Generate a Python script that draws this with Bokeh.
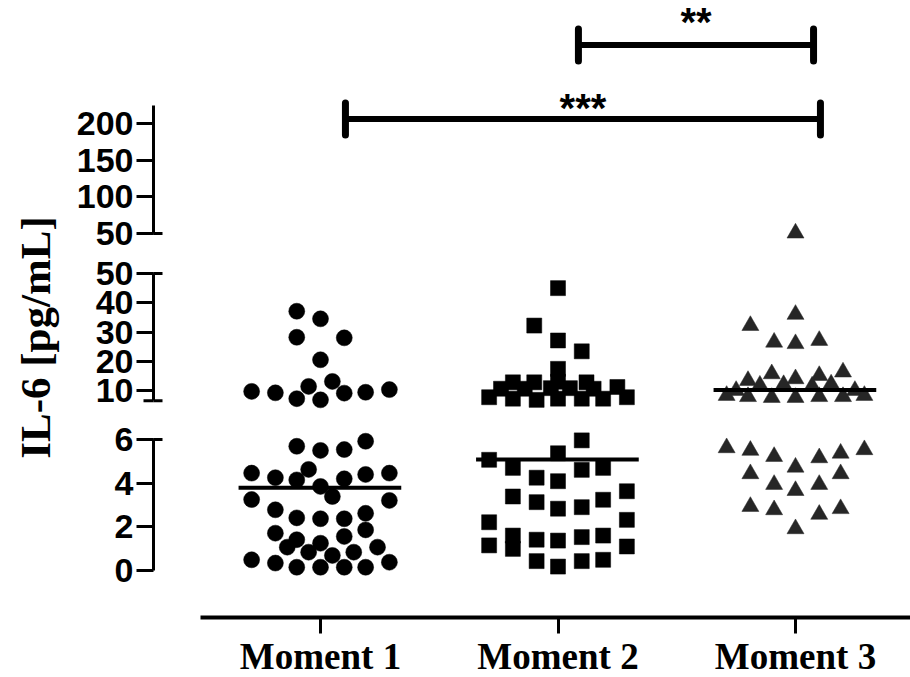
import math
from bokeh.plotting import figure
from bokeh.models import Range1d, LinearAxis, FixedTicker, Label
from bokeh.core.properties import value
from bokeh.embed import file_html
from bokeh.resources import INLINE

# ---------------- data ----------------
categories = ["Moment 1", "Moment 2", "Moment 3"]

m1_offset = [-0.10, 0.00, -0.10, 0.10, 0.00, -0.29, -0.19, -0.10, -0.05, 0.00, 0.05, 0.10, 0.19, 0.29,
             -0.10, 0.00, 0.10, 0.19, -0.29, -0.19, -0.10, -0.05, 0.10, 0.19, 0.29, 0.00, 0.05, -0.29, 0.29,
             -0.19, -0.10, 0.00, 0.10, 0.19, -0.19, -0.10, -0.14, 0.00, -0.05, 0.10, 0.19, 0.05, 0.14, 0.24,
             -0.29, -0.19, -0.10, 0.00, 0.10, 0.19, 0.29]
m1_value = [37.1, 34.5, 28.2, 28.0, 20.5, 9.7, 9.2, 7.2, 11.4, 6.8, 13.1, 9.1, 9.4, 10.3,
            5.69, 5.50, 5.54, 5.92, 4.46, 4.25, 4.15, 4.63, 4.20, 4.40, 4.46, 3.85, 3.39, 3.25, 3.21,
            2.78, 2.41, 2.37, 2.37, 2.62, 1.71, 1.41, 1.07, 1.25, 0.84, 1.56, 1.86, 0.69, 0.84, 1.07,
            0.49, 0.34, 0.15, 0.15, 0.15, 0.15, 0.38]

m2_offset = [0.00, -0.10, 0.00, 0.10, 0.00,
             -0.29, -0.19, -0.09, 0.00, 0.10, 0.19, 0.29,
             -0.24, -0.14, -0.03, 0.05, 0.15, 0.25,
             -0.19, -0.10, 0.00, 0.12,
             0.10, -0.29, 0.00, -0.19, -0.09, 0.00, 0.10, 0.19,
             -0.19, -0.09, 0.00, 0.10, 0.19, 0.29, -0.29, 0.29,
             -0.19, -0.19, -0.09, 0.00, 0.10, 0.19, -0.29, 0.29,
             -0.09, 0.00, 0.10, 0.19]
m2_value = [45.0, 32.2, 27.1, 23.4, 17.4,
            7.7, 7.2, 6.8, 7.2, 7.2, 7.2, 7.7,
            10.6, 10.6, 10.8, 10.8, 10.6, 11.2,
            12.8, 12.8, 13.0, 12.8,
            5.96, 5.07, 5.37, 4.70, 4.25, 4.09, 4.61, 4.70,
            3.39, 3.13, 2.83, 2.90, 3.24, 3.63, 2.21, 2.32,
            1.60, 0.99, 1.41, 1.37, 1.53, 1.60, 1.15, 1.10,
            0.43, 0.18, 0.43, 0.49]

m3_offset = [0.00,
             0.00, -0.19, -0.09, 0.00, 0.10,
             -0.20, -0.10, 0.00, 0.10, 0.20, -0.15, -0.05, 0.07, 0.15, -0.25, 0.25,
             -0.29, -0.20, -0.10, 0.00, 0.10, 0.20, 0.29,
             -0.29, -0.19, -0.09, 0.00, 0.10, 0.19, 0.29,
             -0.19, -0.09, 0.00, 0.10, 0.19,
             -0.19, -0.09, 0.10, 0.19, 0.00]
m3_value = [50.5,
            36.0, 32.2, 26.5, 26.0, 27.1,
            13.4, 15.7, 14.0, 15.1, 16.3, 11.8, 12.0, 11.5, 12.2, 10.0, 10.0,
            8.3, 7.9, 7.6, 7.6, 7.9, 7.9, 8.3,
            5.62, 5.50, 5.22, 4.73, 5.16, 5.37, 5.53,
            4.43, 3.94, 3.66, 3.94, 4.43,
            2.93, 2.78, 2.57, 2.83, 1.91]

medians = [3.79, 5.08, 10.2]

ticks_bottom = [0, 2, 4, 6]
ticks_mid = [10, 20, 30, 40, 50]
ticks_top = [50, 100, 150, 200]

bracket_x0 = [1.105, 2.086]
bracket_x1 = [3.105, 3.076]
bracket_y = [206, 307]
bracket_text = ["***", "**"]

y_title = "IL-6 [pg/mL]"

# ---------------- layout ----------------
W, H = 910, 677
PX_CAT, CAT1 = 237.5, 320.0


def xval(px):
    return 1 + (px - CAT1) / PX_CAT


# value/pixel anchors for the three axis segments
seg_anchor = {
    "default": (0, 570.0, 6, 439.0),
    "mid": (10, 390.0, 50, 273.0),
    "top": (50, 233.0, 200, 123.0),
}
seg_scale = {k: (a[1] - a[3]) / (a[2] - a[0]) for k, a in seg_anchor.items()}


def yval(k, py):
    va, ya, vb, yb = seg_anchor[k]
    return va + (ya - py) / seg_scale[k]


def seg_range(k):
    return yval(k, H), yval(k, 0)


def seg_of(v):
    if v <= 6.2:
        return "default"
    if v <= 50:
        return "mid"
    return "top"


p = figure(width=W, height=H, x_range=Range1d(xval(0), xval(W)),
           y_range=Range1d(*seg_range("default")),
           x_axis_type=None, y_axis_type=None,
           toolbar_location=None, output_backend="svg",
           min_border_left=0, min_border_right=0, min_border_top=0, min_border_bottom=0)
p.extra_y_ranges = {"mid": Range1d(*seg_range("mid")), "top": Range1d(*seg_range("top"))}
p.outline_line_color = None
p.background_fill_color = "white"
p.border_fill_color = "white"

axis_x = xval(153)

# ---------------- y axes (broken) ----------------
for name, ticks, bounds in [("default", ticks_bottom, (0, 6)),
                            ("mid", ticks_mid, (6.5, 50)),
                            ("top", ticks_top, (50, 224))]:
    ax = LinearAxis(y_range_name=name, ticker=FixedTicker(ticks=ticks), bounds=bounds,
                    fixed_location=axis_x)
    ax.axis_line_width = 3
    ax.axis_line_color = "black"
    ax.major_tick_line_width = 3
    ax.major_tick_line_color = "black"
    ax.major_tick_out = 17
    ax.major_tick_in = 0
    ax.minor_tick_line_color = None
    ax.major_label_text_font = "Liberation Sans"
    ax.major_label_text_font_style = "bold"
    ax.major_label_text_font_size = "34px"
    ax.major_label_text_color = "black"
    ax.major_label_standoff = 3
    p.add_layout(ax, "left")

# break marks at the segment ends
for name, ends in [("top", [50]), ("mid", [50, 6.5]), ("default", [6])]:
    for ang, ln in [(0, 9), (math.pi, 10)]:
        p.ray(x=[axis_x] * len(ends), y=ends, length=ln, angle=ang, length_units="screen",
              line_width=3, line_color="black", y_range_name=name)

# ---------------- x axis ----------------
xa = LinearAxis(ticker=FixedTicker(ticks=[i + 1 for i in range(len(categories))]),
                major_label_overrides={i + 1: c for i, c in enumerate(categories)},
                bounds=(xval(200), xval(W)),
                fixed_location=yval("default", 617))
xa.axis_line_width = 4
xa.axis_line_color = "black"
xa.major_tick_line_width = 3
xa.major_tick_line_color = "black"
xa.major_tick_out = 16
xa.major_tick_in = 0
xa.minor_tick_line_color = None
xa.major_label_text_font = "Liberation Serif"
xa.major_label_text_font_style = "bold"
xa.major_label_text_font_size = "37px"
xa.major_label_text_color = "black"
xa.major_label_standoff = 2
p.add_layout(xa, "below")

# ---------------- points ----------------
groups = [(m1_offset, m1_value, "circle", 16, "black"),
          (m2_offset, m2_value, "square", 15, "black"),
          (m3_offset, m3_value, "triangle", 17, "#262626")]
for i, (offs, vals, marker, size, color) in enumerate(groups):
    for seg in ["default", "mid", "top"]:
        xs = [i + 1 + o for o, v in zip(offs, vals) if seg_of(v) == seg]
        ys = [v for v in vals if seg_of(v) == seg]
        if not xs:
            continue
        p.scatter(x=xs, y=ys, marker=marker, size=size, fill_color=color, line_color=color,
                  line_width=0.5, y_range_name=seg)

# median lines
for i, m in enumerate(medians):
    p.segment(x0=[i + 1 - 0.345], x1=[i + 1 + 0.34], y0=[m], y1=[m], line_width=4,
              line_color="black", y_range_name=seg_of(m))

# significance brackets
cap = 16 / seg_scale["top"]
p.segment(x0=bracket_x0, x1=bracket_x1, y0=bracket_y, y1=bracket_y, line_width=6,
          line_color="black", y_range_name="top")
p.segment(x0=bracket_x0 + bracket_x1, x1=bracket_x0 + bracket_x1,
          y0=[y - cap for y in bracket_y] * 2, y1=[y + cap for y in bracket_y] * 2,
          line_width=7, line_color="black", line_cap="round", y_range_name="top")
p.text(x=[(a + b) / 2 for a, b in zip(bracket_x0, bracket_x1)], y=bracket_y, text=bracket_text,
       y_offset=[-11, -23],
       text_font=value("Liberation Sans"), text_font_style="bold", text_font_size="40px",
       text_align="center", text_baseline="alphabetic", text_color="black", y_range_name="top")

# y-axis title
p.add_layout(Label(x=xval(35), y=yval("mid", 337), y_range_name="mid", text=y_title,
                   angle=math.pi / 2, text_align="center", text_baseline="middle",
                   text_font="Liberation Serif", text_font_style="bold", text_font_size="43px",
                   text_color="black"))

open("out.html", "w").write(file_html(p, INLINE))
